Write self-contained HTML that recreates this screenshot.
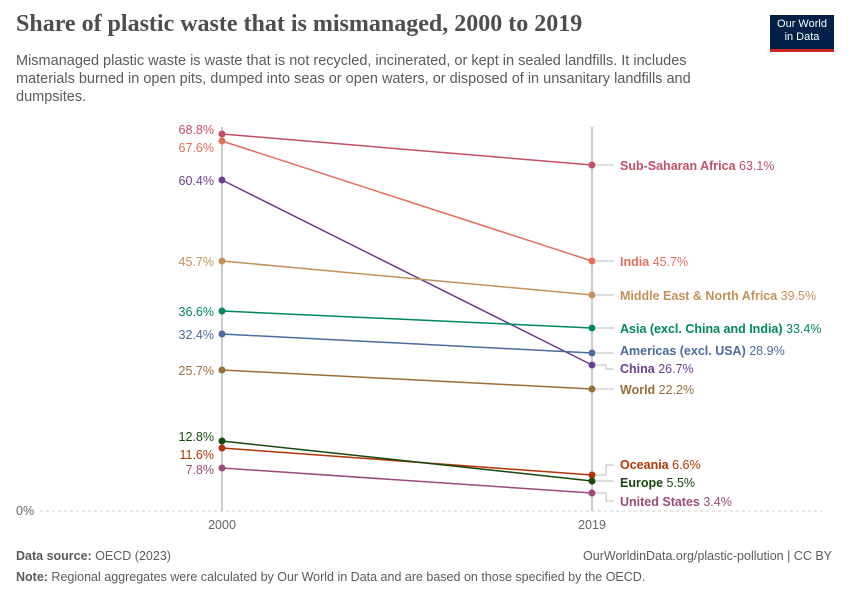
<!DOCTYPE html>
<html><head><meta charset="utf-8"><style>
body{margin:0;width:850px;height:600px;background:#fff;font-family:"Liberation Sans",sans-serif;overflow:hidden}
.t{position:absolute;left:16px;top:11px;font-family:"Liberation Serif",serif;font-weight:bold;font-size:24px;color:#4e4e4e;letter-spacing:0px}
.s{position:absolute;left:16px;top:52px;width:720px;font-size:14.5px;line-height:18px;color:#5b5b5b}
.logo{position:absolute;left:770px;top:15px;width:64px;height:37px;background:#002147;color:#fff;font-size:11px;line-height:13px;text-align:center;padding-top:3px;box-sizing:border-box;border-bottom:3px solid #ce261e}
.f{position:absolute;font-size:12.5px;color:#5b5b5b}
</style></head><body>
<div class="t">Share of plastic waste that is mismanaged, 2000 to 2019</div>
<div class="s">Mismanaged plastic waste is waste that is not recycled, incinerated, or kept in sealed landfills. It includes materials burned in open pits, dumped into seas or open waters, or disposed of in unsanitary landfills and dumpsites.</div>
<div class="logo">Our World<br>in Data</div>
<svg width="850" height="600" style="position:absolute;left:0;top:0" font-family="Liberation Sans,sans-serif" font-size="12.5">
<line x1="40" y1="511" x2="822" y2="511" stroke="#ccc" stroke-dasharray="3,3"/>
<text x="16" y="515" fill="#666">0%</text>
<line x1="222" y1="127" x2="222" y2="511" stroke="#999"/>
<line x1="592" y1="127" x2="592" y2="511" stroke="#999"/>
<text x="222" y="529" fill="#666" text-anchor="middle">2000</text>
<text x="592" y="529" fill="#666" text-anchor="middle">2019</text>
<g stroke-width="1.5">
<line x1="222" y1="134" x2="592" y2="165" stroke="#c15065"/>
<line x1="222" y1="141" x2="592" y2="261" stroke="#e56e5a"/>
<line x1="222" y1="180" x2="592" y2="365" stroke="#6d3e91"/>
<line x1="222" y1="261" x2="592" y2="295" stroke="#c4915c"/>
<line x1="222" y1="311" x2="592" y2="328" stroke="#00875e"/>
<line x1="222" y1="334" x2="592" y2="353" stroke="#4c6a9c"/>
<line x1="222" y1="370" x2="592" y2="389" stroke="#996d39"/>
<line x1="222" y1="448" x2="592" y2="475" stroke="#b13507"/>
<line x1="222" y1="441" x2="592" y2="481" stroke="#18470f"/>
<line x1="222" y1="468" x2="592" y2="493" stroke="#9b4a7a"/>
</g>
<g>
<circle cx="222" cy="134" r="3.5" fill="#c15065"/><circle cx="592" cy="165" r="3.5" fill="#c15065"/>
<circle cx="222" cy="141" r="3.5" fill="#e56e5a"/><circle cx="592" cy="261" r="3.5" fill="#e56e5a"/>
<circle cx="222" cy="180" r="3.5" fill="#6d3e91"/><circle cx="592" cy="365" r="3.5" fill="#6d3e91"/>
<circle cx="222" cy="261" r="3.5" fill="#c4915c"/><circle cx="592" cy="295" r="3.5" fill="#c4915c"/>
<circle cx="222" cy="311" r="3.5" fill="#00875e"/><circle cx="592" cy="328" r="3.5" fill="#00875e"/>
<circle cx="222" cy="334" r="3.5" fill="#4c6a9c"/><circle cx="592" cy="353" r="3.5" fill="#4c6a9c"/>
<circle cx="222" cy="370" r="3.5" fill="#996d39"/><circle cx="592" cy="389" r="3.5" fill="#996d39"/>
<circle cx="222" cy="448" r="3.5" fill="#b13507"/><circle cx="592" cy="475" r="3.5" fill="#b13507"/>
<circle cx="222" cy="441" r="3.5" fill="#18470f"/><circle cx="592" cy="481" r="3.5" fill="#18470f"/>
<circle cx="222" cy="468" r="3.5" fill="#9b4a7a"/><circle cx="592" cy="493" r="3.5" fill="#9b4a7a"/>
</g>
<g text-anchor="end">
<text x="214" y="134" fill="#c15065">68.8%</text>
<text x="214" y="152" fill="#e56e5a">67.6%</text>
<text x="214" y="185" fill="#6d3e91">60.4%</text>
<text x="214" y="266" fill="#c4915c">45.7%</text>
<text x="214" y="316" fill="#00875e">36.6%</text>
<text x="214" y="339" fill="#4c6a9c">32.4%</text>
<text x="214" y="375" fill="#996d39">25.7%</text>
<text x="214" y="441" fill="#18470f">12.8%</text>
<text x="214" y="459" fill="#b13507">11.6%</text>
<text x="214" y="474" fill="#9b4a7a">7.8%</text>
</g>
<g stroke="#bbb" fill="none">
<path d="M596 165H614"/><path d="M596 261H614"/><path d="M596 295H614"/><path d="M596 328H614"/><path d="M596 353H614"/>
<path d="M596 365H606V369H614"/><path d="M596 389H614"/>
<path d="M596 475H606V465H614"/><path d="M596 481H614"/><path d="M596 493H606V501H614"/>
</g>
<g font-weight="bold">
<text x="620" y="170" fill="#c15065">Sub-Saharan Africa <tspan font-weight="normal">63.1%</tspan></text>
<text x="620" y="266" fill="#e56e5a">India <tspan font-weight="normal">45.7%</tspan></text>
<text x="620" y="300" fill="#c4915c">Middle East &amp; North Africa <tspan font-weight="normal">39.5%</tspan></text>
<text x="620" y="333" fill="#00875e">Asia (excl. China and India) <tspan font-weight="normal">33.4%</tspan></text>
<text x="620" y="355" fill="#4c6a9c">Americas (excl. USA) <tspan font-weight="normal">28.9%</tspan></text>
<text x="620" y="373" fill="#6d3e91">China <tspan font-weight="normal">26.7%</tspan></text>
<text x="620" y="394" fill="#996d39">World <tspan font-weight="normal">22.2%</tspan></text>
<text x="620" y="469" fill="#b13507">Oceania <tspan font-weight="normal">6.6%</tspan></text>
<text x="620" y="487" fill="#18470f">Europe <tspan font-weight="normal">5.5%</tspan></text>
<text x="620" y="506" fill="#9b4a7a">United States <tspan font-weight="normal">3.4%</tspan></text>
</g>
</svg>
<div class="f" style="left:16px;top:549px"><b>Data source:</b> OECD (2023)</div>
<div class="f" style="right:18px;top:549px">OurWorldinData.org/plastic-pollution | CC BY</div>
<div class="f" style="left:16px;top:570px"><b>Note:</b> Regional aggregates were calculated by Our World in Data and are based on those specified by the OECD.</div>
</body></html>
